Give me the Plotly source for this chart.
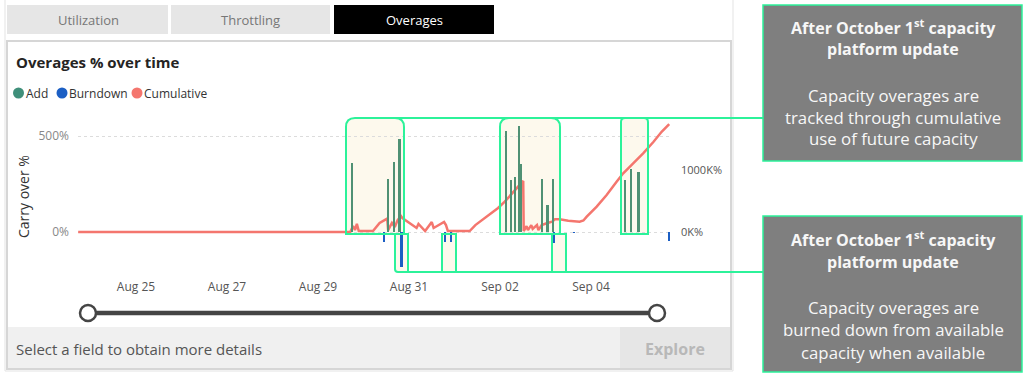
import plotly.graph_objects as go
import pandas as pd

W, H = 1024, 378

# ---------------- data ----------------
add_times = ["2024-08-29 18:00", "2024-08-30 13:00", "2024-08-30 16:00", "2024-08-30 19:00",
             "2024-09-02 03:00", "2024-09-02 06:00", "2024-09-02 08:00", "2024-09-02 10:00",
             "2024-09-02 11:00", "2024-09-02 22:00", "2024-09-03 01:00", "2024-09-03 04:00",
             "2024-09-04 18:00", "2024-09-04 21:00", "2024-09-05 01:00"]
add_vals = [1113, 855, 1134, 1495, 1634, 839, 892, 1715, 1097, 850, 435, 860, 839, 1021, 968]

burn_times = ["2024-08-30 11:00", "2024-08-30 20:00", "2024-08-31 19:00", "2024-08-31 22:00",
              "2024-09-03 04:30", "2024-09-03 15:00", "2024-09-05 17:00"]
burn_vals = [-156, -565, -156, -156, -173, -15, -140]

cum_times = ["2024-08-23 17:30", "2024-08-29 15:00", "2024-08-29 17:00", "2024-08-29 18:30",
             "2024-08-29 19:30", "2024-08-29 20:30", "2024-08-29 21:30", "2024-08-30 05:00",
             "2024-08-30 08:30", "2024-08-30 12:30", "2024-08-30 13:00", "2024-08-30 15:00",
             "2024-08-30 16:30", "2024-08-30 18:00", "2024-08-30 19:45", "2024-08-30 20:30",
             "2024-08-31 04:00", "2024-08-31 05:00", "2024-08-31 08:30", "2024-08-31 12:00",
             "2024-08-31 13:00", "2024-08-31 18:30", "2024-08-31 19:30", "2024-08-31 20:30",
             "2024-09-01 08:00", "2024-09-01 11:00", "2024-09-01 17:30", "2024-09-01 23:00",
             "2024-09-02 02:30", "2024-09-02 07:00", "2024-09-02 09:30", "2024-09-02 12:15",
             "2024-09-02 12:30", "2024-09-02 14:00", "2024-09-02 14:45", "2024-09-02 16:30",
             "2024-09-02 17:15", "2024-09-02 19:30", "2024-09-02 20:15", "2024-09-02 22:00",
             "2024-09-03 01:00", "2024-09-03 03:30", "2024-09-03 05:00", "2024-09-03 07:30",
             "2024-09-03 12:00", "2024-09-03 18:00", "2024-09-03 20:00", "2024-09-03 21:45",
             "2024-09-04 03:00", "2024-09-04 08:15", "2024-09-04 13:30", "2024-09-04 17:00",
             "2024-09-04 22:15", "2024-09-05 03:30", "2024-09-05 09:00", "2024-09-05 13:15",
             "2024-09-05 17:15"]
cum_vals = [0, 0, 0, 31, 10, 42, 5, 5, 47, 70, 10, 47, 26, 62, 83, 73,
            21, 42, 5, 52, 21, 52, 36, 5, 5, 36, 83, 125, 158, 208, 236, 266,
            5, 31, 10, 36, 16, 36, 10, 36, 47, 54, 66, 66, 59, 54, 60, 80,
            132, 193, 262, 306, 358, 410, 470, 522, 562]

x_ticks = ["2024-08-25", "2024-08-27", "2024-08-29", "2024-08-31", "2024-09-02", "2024-09-04"]
x_tick_text = ["Aug 25", "Aug 27", "Aug 29", "Aug 31", "Sep 02", "Sep 04"]
left_ticks = [0, 500]
left_tick_text = ["0%", "500%"]
right_ticks = [0, 1000]
right_tick_text = ["0K%", "1000K%"]

# ---------------- colors ----------------
C_ADD = "#4f9174"
C_BURN = "#1c5fc4"
C_CUM = "#f4766e"
GREEN = "#2cf29a"
BEIGE = "#fdf9ed"
FONT = "Open Sans"

# ---------------- helpers ----------------
def px(x):
    return x / W

def py(y):
    return 1 - y / H

def rrect(x0, y0, x1, y1, tl=0, tr=0, br=0, bl=0):
    def P(x, y):
        return f"{px(x):.5f},{py(y):.5f}"
    d = f"M {P(x0 + tl, y0)} L {P(x1 - tr, y0)} Q {P(x1, y0)} {P(x1, y0 + tr)} "
    d += f"L {P(x1, y1 - br)} Q {P(x1, y1)} {P(x1 - br, y1)} "
    d += f"L {P(x0 + bl, y1)} Q {P(x0, y1)} {P(x0, y1 - bl)} "
    d += f"L {P(x0, y0 + tl)} Q {P(x0, y0)} {P(x0 + tl, y0)} Z"
    return d

shapes = []
annots = []

def rect(x0, y0, x1, y1, fill, line=None, lw=0, layer="below"):
    shapes.append(dict(type="rect", xref="paper", yref="paper",
                       x0=px(x0), x1=px(x1), y0=py(y1), y1=py(y0),
                       fillcolor=fill, line=dict(color=line or fill, width=lw), layer=layer))

def text(x, y, t, size=13, color="#444", xanchor="left", bold=False, font=FONT, angle=0):
    if bold:
        t = f"<b>{t}</b>"
    annots.append(dict(x=px(x), y=py(y), xref="paper", yref="paper", text=t, showarrow=False,
                       xanchor=xanchor, yanchor="middle", textangle=angle,
                       font=dict(size=size, color=color, family=font)))

# ---------------- traces ----------------
bar_w = 4.2e6
fig = go.Figure()
fig.add_trace(go.Scatter(x=cum_times, y=cum_vals, mode="lines", name="Cumulative",
                         line=dict(color=C_CUM, width=2.5), yaxis="y"))
fig.add_trace(go.Bar(x=add_times, y=add_vals, name="Add", marker=dict(color=C_ADD, line=dict(width=0)),
                     width=bar_w, yaxis="y2"))
fig.add_trace(go.Bar(x=burn_times, y=burn_vals, name="Burndown", marker=dict(color=C_BURN, line=dict(width=0)),
                     width=bar_w, yaxis="y2"))

# ---------------- background / panel shapes ----------------
shapes.append(dict(type="rect", xref="paper", yref="paper", x0=px(5), x1=px(733), y0=py(371), y1=py(-2),
                   fillcolor="white", line=dict(color="#e3e3e3", width=1), layer="below"))
rect(7, 5, 168, 34, "#e6e6e6")
rect(171, 5, 330, 34, "#e6e6e6")
rect(334, 5, 494, 34, "#000000")
shapes.append(dict(type="rect", xref="paper", yref="paper", x0=px(7), x1=px(731), y0=py(369), y1=py(41),
                   fillcolor="white", line=dict(color="#d6d6d6", width=2), layer="below"))
rect(8, 327, 620, 368, "#f0f0f0")
rect(620, 327, 730, 368, "#e6e6e6")

# highlight fills
hl = [(346, 118, 404, 234, 9, 9, 0, 0), (500, 118, 560, 234, 9, 9, 0, 0), (621, 118, 648, 234, 4, 4, 0, 0),
      (395, 234, 408, 272, 0, 0, 0, 3), (442, 234, 456, 272, 0, 0, 0, 0), (552, 234, 566, 272, 0, 0, 0, 0)]
for (a, b, c, d, tl, tr, br, bl) in hl:
    shapes.append(dict(type="path", xref="paper", yref="paper", path=rrect(a, b, c, d, tl, tr, br, bl),
                       fillcolor=BEIGE, line=dict(width=0), layer="below"))
# highlight outlines
for (a, b, c, d, tl, tr, br, bl) in hl:
    shapes.append(dict(type="path", xref="paper", yref="paper", path=rrect(a, b, c, d, tl, tr, br, bl),
                       line=dict(color=GREEN, width=2), layer="above"))
shapes.append(dict(type="line", xref="paper", yref="paper", x0=px(355), x1=px(763), y0=py(118), y1=py(118),
                   line=dict(color=GREEN, width=2), layer="above"))
shapes.append(dict(type="line", xref="paper", yref="paper", x0=px(398), x1=px(763), y0=py(272), y1=py(272),
                   line=dict(color=GREEN, width=2), layer="above"))

# callout boxes
rect(763, 5, 1022, 161, "#7f7f7f", GREEN, 1.5, "above")
rect(763, 216, 1022, 372, "#7f7f7f", GREEN, 1.5, "above")

# slider
shapes.append(dict(type="line", xref="paper", yref="paper", x0=px(88), x1=px(657), y0=py(313), y1=py(313),
                   line=dict(color="#454545", width=4.5), layer="above"))
for cx in (88, 657):
    shapes.append(dict(type="circle", xref="paper", yref="paper", x0=px(cx - 8), x1=px(cx + 8),
                       y0=py(313 + 8), y1=py(313 - 8), fillcolor="white",
                       line=dict(color="#454545", width=2.5), layer="above"))

# legend markers
for cx, col in ((18.5, "#3f8f7a"), (62, C_BURN), (137, C_CUM)):
    shapes.append(dict(type="circle", xref="paper", yref="paper", x0=px(cx - 5.5), x1=px(cx + 5.5),
                       y0=py(93 + 5.5), y1=py(93 - 5.5), fillcolor=col, line=dict(width=0), layer="above"))

# ---------------- texts ----------------
text(88, 20, "Utilization", 13, "#777777", "center")
text(250, 20, "Throttling", 13, "#777777", "center")
text(414, 20, "Overages", 13, "#ffffff", "center")
text(14, 62, "Overages % over time", 15, "#252423", bold=True)
text(24, 93, "Add", 12, "#333333")
text(67, 93, "Burndown", 12, "#333333")
text(142, 93, "Cumulative", 12, "#333333")
text(23, 197, "Carry over %", 14, "#333333", "center", angle=-90)
text(14, 349, "Select a field to obtain more details", 15, "#555555")
text(675, 349, "Explore", 16, "#b8b8b8", "center", bold=True)

CW = "#f7f7f7"
CX = 893
text(CX, 27, "After October 1<sup>st</sup> capacity", 16, CW, "center", bold=True)
text(CX, 49, "platform update", 16, CW, "center", bold=True)
text(CX, 95, "Capacity overages are", 16.8, CW, "center")
text(CX, 117, "tracked through cumulative", 16.8, CW, "center")
text(CX, 139, "use of future capacity", 16.8, CW, "center")
text(CX, 239, "After October 1<sup>st</sup> capacity", 16, CW, "center", bold=True)
text(CX, 262, "platform update", 16, CW, "center", bold=True)
text(CX, 307, "Capacity overages are", 16.8, CW, "center")
text(CX, 329, "burned down from available", 16.8, CW, "center")
text(CX, 352, "capacity when available", 16.8, CW, "center")

# ---------------- axes ----------------
PX_PER_DAY = 45.5
X_LEFT, X_RIGHT, X_REF = 78, 672, 136
ref = pd.Timestamp("2024-08-25")
x_start = ref + pd.Timedelta(days=(X_LEFT - X_REF) / PX_PER_DAY)
x_end = ref + pd.Timedelta(days=(X_RIGHT - X_REF) / PX_PER_DAY)

Y_TOP, Y_BOT, Y_ZERO = 112, 272, 232
L_SCALE = 96 / 500.0   # px per %
R_SCALE = 62 / 1000.0  # px per K%

fig.update_layout(
    width=W, height=H, autosize=False,
    margin=dict(l=0, r=0, t=0, b=0),
    paper_bgcolor="white", plot_bgcolor="rgba(0,0,0,0)",
    showlegend=False, barmode="overlay", bargap=0,
    font=dict(family=FONT),
    shapes=shapes, annotations=annots,
    xaxis=dict(domain=[px(X_LEFT), px(X_RIGHT)], type="date",
               range=[x_start, x_end], tickvals=x_ticks, ticktext=x_tick_text,
               showgrid=False, zeroline=False, showline=False, ticks="",
               tickfont=dict(size=12, color="#555555"), ticklabelstandoff=6),
    yaxis=dict(domain=[py(Y_BOT), py(Y_TOP)],
               range=[-(Y_BOT - Y_ZERO) / L_SCALE, (Y_ZERO - Y_TOP) / L_SCALE],
               tickvals=left_ticks, ticktext=left_tick_text, showgrid=True, griddash="dot",
               gridcolor="#dcdcdc", gridwidth=1, zeroline=False, showline=False, ticks="",
               tickfont=dict(size=12, color="#888888"), ticklabelstandoff=8),
    yaxis2=dict(overlaying="y", side="right",
                range=[-(Y_BOT - Y_ZERO) / R_SCALE, (Y_ZERO - Y_TOP) / R_SCALE],
                tickvals=right_ticks, ticktext=right_tick_text, showgrid=False, zeroline=False,
                showline=False, ticks="",
                tickfont=dict(size=11, color="#555555"), ticklabelstandoff=8),
)

fig.write_html("out.html", config={"displayModeBar": False},
               post_script="document.body.style.margin='0';document.body.style.overflow='hidden';")
